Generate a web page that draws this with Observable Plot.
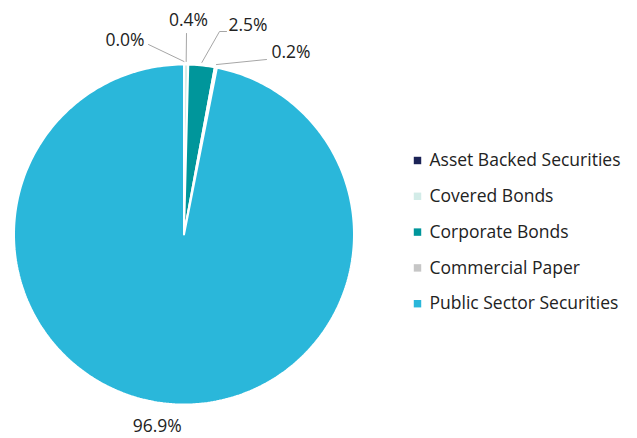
<!DOCTYPE html>
<html>
<head>
<meta charset="utf-8">
<script src="https://cdn.jsdelivr.net/npm/d3@7"></script>
<script src="https://cdn.jsdelivr.net/npm/@observablehq/plot@0.6"></script>
<style>
  html, body { margin: 0; padding: 0; background: #fff; }
  #chart { width: 637px; height: 438px; }
</style>
</head>
<body>
<div id="chart"></div>
<script>
// ---- data ----
const categories = ["Asset Backed Securities", "Covered Bonds", "Corporate Bonds", "Commercial Paper", "Public Sector Securities"];
const shares = [0.0, 0.4, 2.5, 0.2, 96.9];
const shareLabels = ["0.0%", "0.4%", "2.5%", "0.2%", "96.9%"];
const colors = ["#1b2356", "#d3ece8", "#00969b", "#c6c6c6", "#2ab7da"];

// ---- layout ----
const W = 637, H = 438;
const cx = 183.5, cy = 234, R = 170;
const FS = 17.5;
// leader line elbows / ends (pixel layout), label text anchors
const leaders = [
  {pts: [[148, 44]], tx: 144, ty: 40, anchor: "end"},
  {pts: [[186, 33]], tx: 188, ty: 20, anchor: "middle"},
  {pts: [[219, 31], [226, 31]], tx: 228, ty: 25, anchor: "start"},
  {pts: [[266, 59]], tx: 271, ty: 52, anchor: "start"},
  null
];

const rows = categories.map((c, i) => ({cat: c, share: shares[i], label: shareLabels[i], i}));
const arcs = d3.pie().sort(null).value(d => d.share).startAngle(0).endAngle(2 * Math.PI)(rows);

const pt = (a, r) => [cx + r * Math.sin(a), cy - r * Math.cos(a)];

// slice polygons
const slicePts = [];
for (const a of arcs) {
  const n = Math.max(2, Math.ceil((a.endAngle - a.startAngle) / (Math.PI / 180)) + 1);
  slicePts.push({cat: a.data.cat, x: cx, y: cy});
  for (let k = 0; k < n; k++) {
    const t = a.startAngle + (a.endAngle - a.startAngle) * k / (n - 1);
    const [x, y] = pt(t, R);
    slicePts.push({cat: a.data.cat, x, y});
  }
  slicePts.push({cat: a.data.cat, x: cx, y: cy});
}

// leader lines & labels
const leaderPts = [];
const labelRows = [];
arcs.forEach((a, i) => {
  const mid = (a.startAngle + a.endAngle) / 2;
  const L = leaders[i];
  if (L) {
    const [sx, sy] = pt(mid, R + 3);
    leaderPts.push({k: i, x: sx, y: sy});
    L.pts.forEach(p => leaderPts.push({k: i, x: p[0], y: p[1]}));
    labelRows.push({x: L.tx, y: L.ty, text: a.data.label, anchor: L.anchor});
  } else {
    const [lx, ly] = pt(mid, R + 23);
    labelRows.push({x: lx - 8, y: ly, text: a.data.label, anchor: "middle"});
  }
});

// legend
const legendRows = categories.map((c, i) => ({cat: c, x: 417, y: 160 + i * 35.8}));

const chart = Plot.plot({
  width: W,
  height: H,
  margin: 0,
  x: {type: "identity", axis: null},
  y: {type: "identity", axis: null},
  color: {domain: categories, range: colors},
  style: {fontFamily: "'Open Sans', Lato, sans-serif", background: "#fff"},
  marks: [
    Plot.line(slicePts, {x: "x", y: "y", z: "cat", fill: "cat", stroke: "#fff", strokeWidth: 2, strokeLinejoin: "miter", curve: "linear"}),
    Plot.line(leaderPts, {x: "x", y: "y", z: "k", stroke: "#a6a6a6", strokeWidth: 1}),
    Plot.text(labelRows.filter(d => d.anchor === "end"), {x: "x", y: "y", text: "text", textAnchor: "end", fontSize: FS, fill: "#222"}),
    Plot.text(labelRows.filter(d => d.anchor === "middle"), {x: "x", y: "y", text: "text", textAnchor: "middle", fontSize: FS, fill: "#222"}),
    Plot.text(labelRows.filter(d => d.anchor === "start"), {x: "x", y: "y", text: "text", textAnchor: "start", fontSize: FS, fill: "#222"}),
    Plot.dot(legendRows, {x: "x", y: "y", symbol: "square", r: 4.2, fill: "cat", stroke: null}),
    Plot.text(legendRows, {x: d => d.x + 12, y: "y", text: "cat", textAnchor: "start", fontSize: FS, fill: "#222"})
  ]
});
document.getElementById("chart").appendChild(chart);
</script>
</body>
</html>
